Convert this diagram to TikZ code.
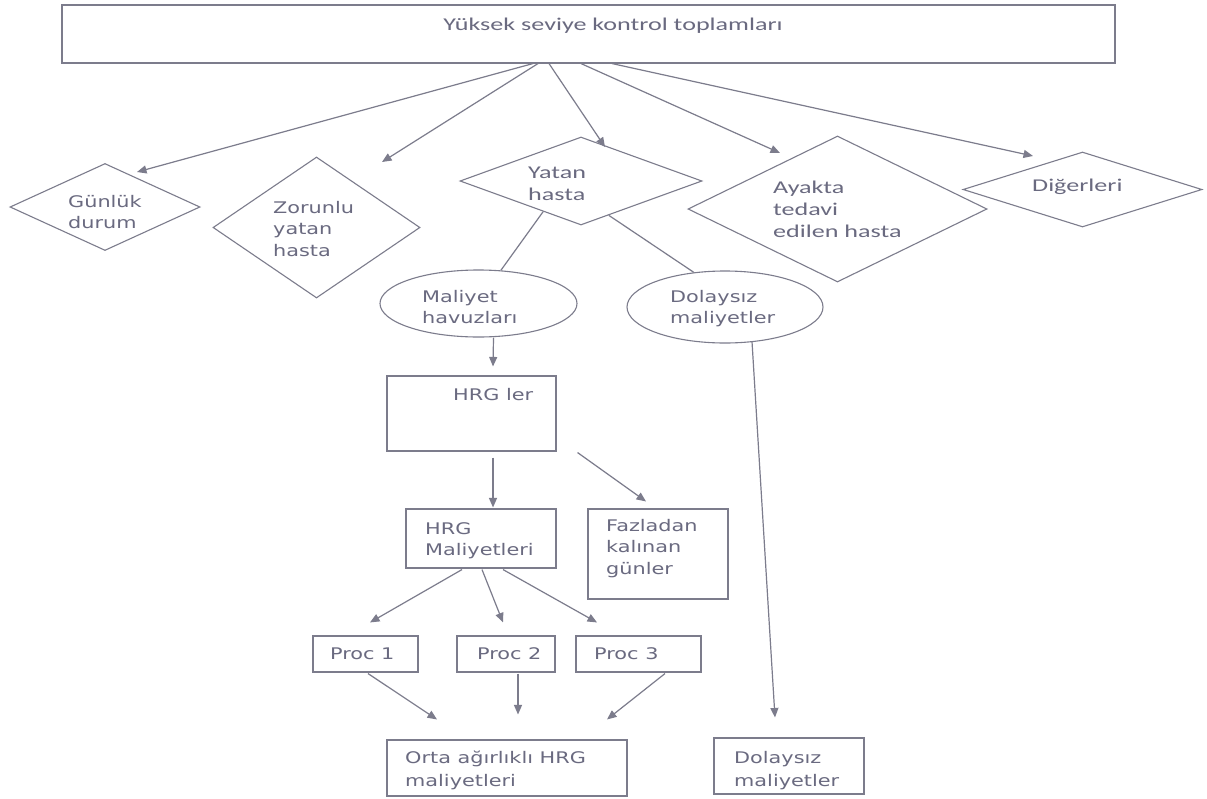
\documentclass[tikz,border=0pt]{standalone}
\usepackage{fontspec}
\usetikzlibrary{shapes.geometric,arrows.meta}
\newfontfamily\calfont[FakeStretch=1.45]{Carlito}
\newfontfamily\verfont[FakeStretch=1.3]{DejaVu Sans}
\definecolor{linegray}{HTML}{7C7C8C}
\definecolor{textgray}{HTML}{6A6A80}
% left-aligned block of lines separated by \cr, baseline on the first line
\newcommand\lns[1]{\vtop{\halign{##\hfil\cr#1\crcr}}}
\tikzset{
  ln/.style={draw=linegray, line width=1.2pt},
  arr/.style={ln, -{Triangle[length=9.5pt,width=8pt]}},
  dia/.style={diamond, draw=linegray, line width=1.1pt, inner sep=0pt},
  ell/.style={ellipse, draw=linegray, line width=1.1pt, inner sep=0pt},
  box/.style={rectangle, draw=linegray, line width=1.1pt, inner sep=0pt},
  vt/.style={anchor=base west, inner sep=0pt, text=textgray, font=\verfont\fontsize{16}{21.5}\selectfont},
  vtw/.style={vt, font=\verfont\fontsize{16}{23}\selectfont},
  ct/.style={anchor=base west, inner sep=0pt, text=textgray, font=\calfont\fontsize{18}{22}\selectfont},
}
\begin{document}
\begin{tikzpicture}[x=1pt,y=-1pt]
\useasboundingbox (0,0) rectangle (1207,798);
\fill[white] (0,0) rectangle (1207,798);

% top level
\node[box, minimum width=1053pt, minimum height=58pt] (top) at (588.5,34) {};
\node[ct, anchor=base] (topt) at (613,30) {Yüksek seviye kontrol toplamları};

% categories
\node[dia, minimum width=190pt, minimum height=87pt] (gd) at (105,207) {};
\node[vt] (gdt) at (68,207) {\lns{Günlük\cr durum}};
\node[dia, minimum width=207pt, minimum height=141pt] (zd) at (316.5,227.5) {};
\node[vt] (zdt) at (273,213) {\lns{Zorunlu\cr yatan\cr hasta}};
\node[dia, minimum width=242pt, minimum height=88pt] (yh) at (581,181) {};
\node[ct] (yht) at (528,178) {\lns{Yatan\cr hasta}};
\node[dia, minimum width=299pt, minimum height=146pt] (ay) at (837.5,209) {};
\node[ct] (ayt) at (773,193) {\lns{Ayakta\cr tedavi\cr edilen hasta}};
\node[dia, minimum width=239pt, minimum height=75pt] (dg) at (1082.5,189.5) {};
\node[ct] (dgt) at (1032,191) {Diğerleri};

% cost split
\node[ell, minimum width=197pt, minimum height=67pt] (mh) at (478.5,303.5) {};
\node[vt] (mht) at (422,302) {\lns{Maliyet\cr havuzları}};
\node[ell, minimum width=196pt, minimum height=72pt] (ds) at (725,307) {};
\node[vt] (dst) at (670,302) {\lns{Dolaysız\cr maliyetler}};

% HRG chain
\node[box, minimum width=169pt, minimum height=75pt] (hrg) at (471.5,413.5) {};
\node[vt] (hrgt) at (453,400) {HRG ler};
\node[box, minimum width=150pt, minimum height=59pt] (hm) at (481,538.5) {};
\node[vt] (hmt) at (425,534) {\lns{HRG\cr Maliyetleri}};
\node[box, minimum width=140pt, minimum height=90pt] (fz) at (658,554) {};
\node[vt] (fzt) at (606,531) {\lns{Fazladan\cr kalınan\cr günler}};

% procedures
\node[box, minimum width=105pt, minimum height=36pt] (p1) at (365.5,654) {};
\node[vt] (p1t) at (330,659) {Proc 1};
\node[box, minimum width=98pt, minimum height=36pt] (p2) at (506,654) {};
\node[vt] (p2t) at (477,659) {Proc 2};
\node[box, minimum width=125pt, minimum height=36pt] (p3) at (638.5,654) {};
\node[vt] (p3t) at (594,659) {Proc 3};

% results
\node[box, minimum width=240pt, minimum height=56pt] (or) at (507,768) {};
\node[vtw] (ort) at (405,763) {\lns{Orta ağırlıklı HRG\cr maliyetleri}};
\node[box, minimum width=150pt, minimum height=56pt] (db) at (789,766) {};
\node[vtw] (dbt) at (734,763) {\lns{Dolaysız\cr maliyetler}};

% connectors from the top box
\draw[arr] ([shift={(-55.5,0)}]top.south) -- ([shift={(32,-35)}]gd.center);
\draw[arr] ([shift={(-50.5,0)}]top.south) -- ([shift={(65.5,-65.5)}]zd.center);
\draw[arr] ([shift={(-39.5,0)}]top.south) -- ([shift={(24,-34)}]yh.center);
\draw[arr] ([shift={(-7.5,0)}]top.south) -- ([shift={(-57.5,-56)}]ay.center);
\draw[arr] ([shift={(23.5,0)}]top.south) -- ([shift={(-49.5,-33.5)}]dg.center);

% inpatient split
\draw[ln] (yh.219) -- (mh.56);
\draw[ln] (yh.-51) -- (ds.132);

% cost pools to HRGs
\draw[arr] ([shift={(15,0)}]mh.south) -- ([shift={(21.5,-9)}]hrg.north);
\draw[arr] ([shift={(21.5,6)}]hrg.south) -- ([shift={(12,-1)}]hm.north);
\draw[arr] ([shift={(21,1)}]hrg.south east) -- ([shift={(-12,-7)}]fz.north);

% HRG costs to procedures
\draw[arr] ([shift={(-19,1)}]hm.south) -- ([shift={(4.5,-13)}]p1.north);
\draw[arr] ([shift={(1,1)}]hm.south) -- ([shift={(-3,-13)}]p2.north);
\draw[arr] ([shift={(22,1)}]hm.south) -- ([shift={(-41.5,-13)}]p3.north);

% procedures to weighted average
\draw[arr] ([shift={(2.5,1)}]p1.south) -- ([shift={(-70,-20)}]or.north);
\draw[arr] ([shift={(12,1)}]p2.south) -- ([shift={(11,-25)}]or.north);
\draw[arr] ([shift={(26.5,1)}]p3.south) -- ([shift={(100,-20)}]or.north);

% direct costs
\draw[arr] ([shift={(27,-2)}]ds.south) -- ([shift={(-14,-20)}]db.north);
\end{tikzpicture}
\end{document}
